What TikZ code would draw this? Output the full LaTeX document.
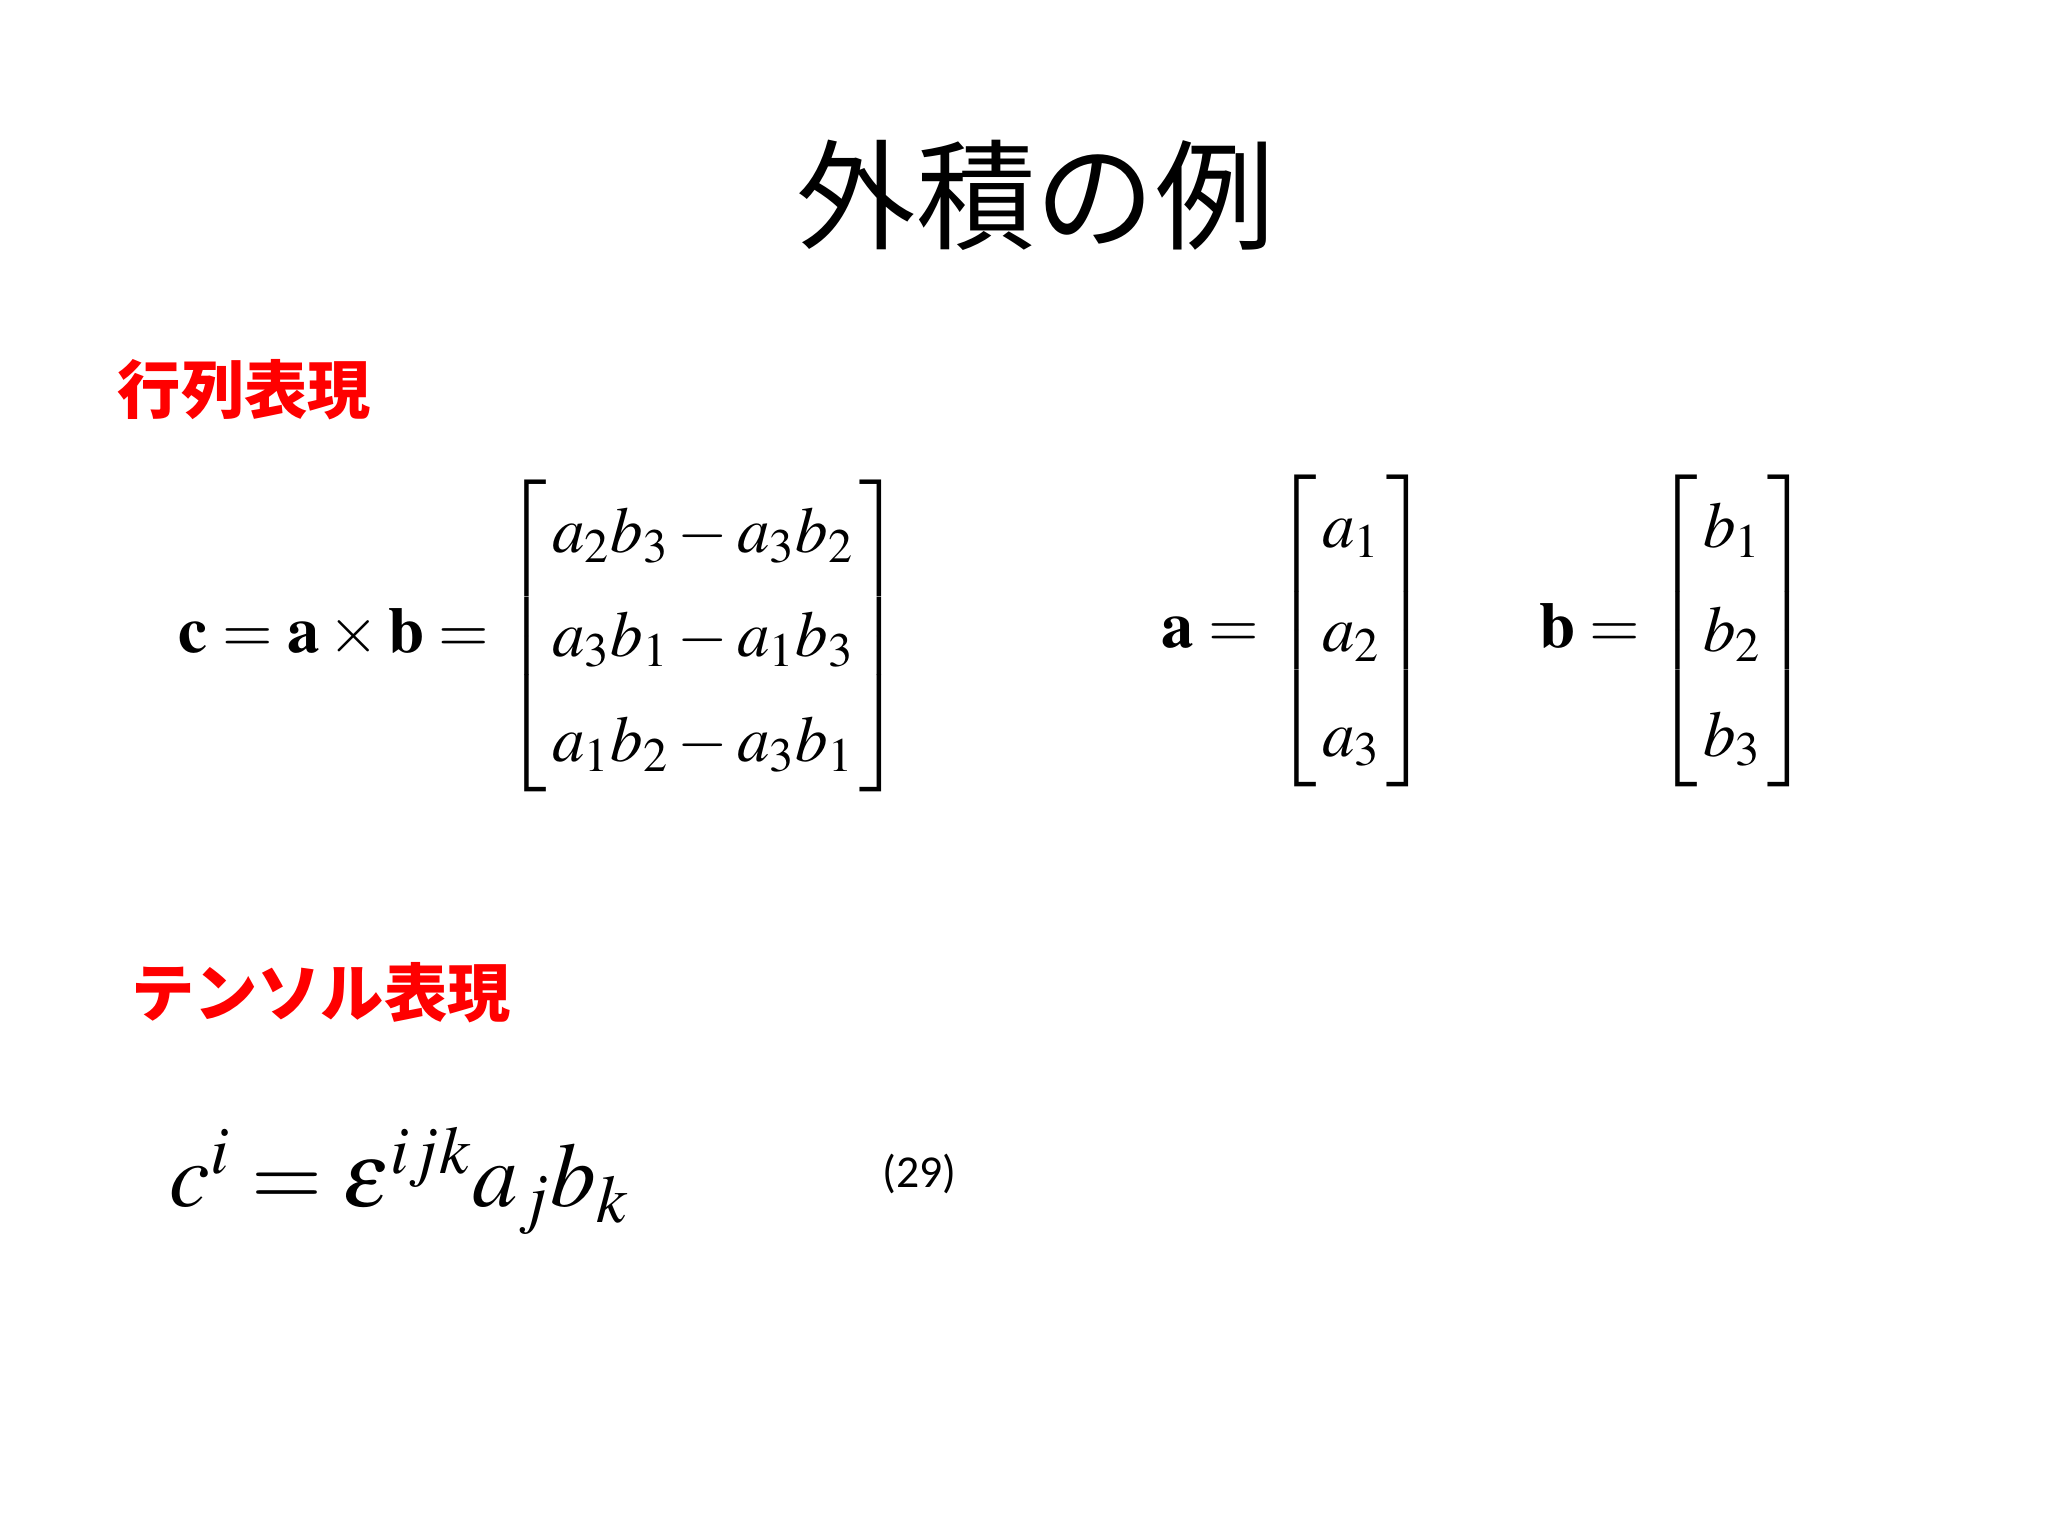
\documentclass[tikz,border=0pt]{standalone}
\usepackage{amsmath}
\usepackage{mathptmx}
\usepackage{fontspec}
\newfontfamily\cjk{Noto Sans CJK JP}
\setsansfont{Carlito}
\begin{document}
\begin{tikzpicture}[x=0.0132cm,y=-0.0132cm,
  head/.style={anchor=west,text=red,font=\cjk\bfseries\fontsize{18}{22}\selectfont},
  eq/.style={anchor=west,font=\fontsize{18.5}{22}\selectfont,inner sep=0pt}]
\fill[white] (0,0) rectangle (1552,1164);
\useasboundingbox (0,0) rectangle (1552,1164);
\node (title) at (785,148) {\cjk\fontsize{34}{40}\selectfont 外積の例};
\node[head] (h1) at (80,295) {行列表現};
\node[head] (h2) at (90,752) {テンソル表現};
\renewcommand{\arraystretch}{1.35}
\setlength{\arraycolsep}{1.5pt}
\node[eq] (m1) at (135,482) {$\mathbf{c}=\mathbf{a}\times\mathbf{b}=\left[\begin{array}{c} a_2b_3-a_3b_2\\ a_3b_1-a_1b_3\\ a_1b_2-a_3b_1\end{array}\right]$};
\node[eq] (va) at (880,478) {$\mathbf{a}=\left[\begin{array}{c} a_1\\ a_2\\ a_3\end{array}\right]$};
\node[eq] (vb) at (1166,478) {$\mathbf{b}=\left[\begin{array}{c} b_1\\ b_2\\ b_3\end{array}\right]$};
\node[eq,font=\fontsize{26}{31}\selectfont] (t) at (128,895) {$c^i=\varepsilon^{ijk}a_jb_k$};
\node[font=\sffamily\fontsize{13}{15}\selectfont] (n) at (697,890) {(29)};
\end{tikzpicture}
\end{document}
